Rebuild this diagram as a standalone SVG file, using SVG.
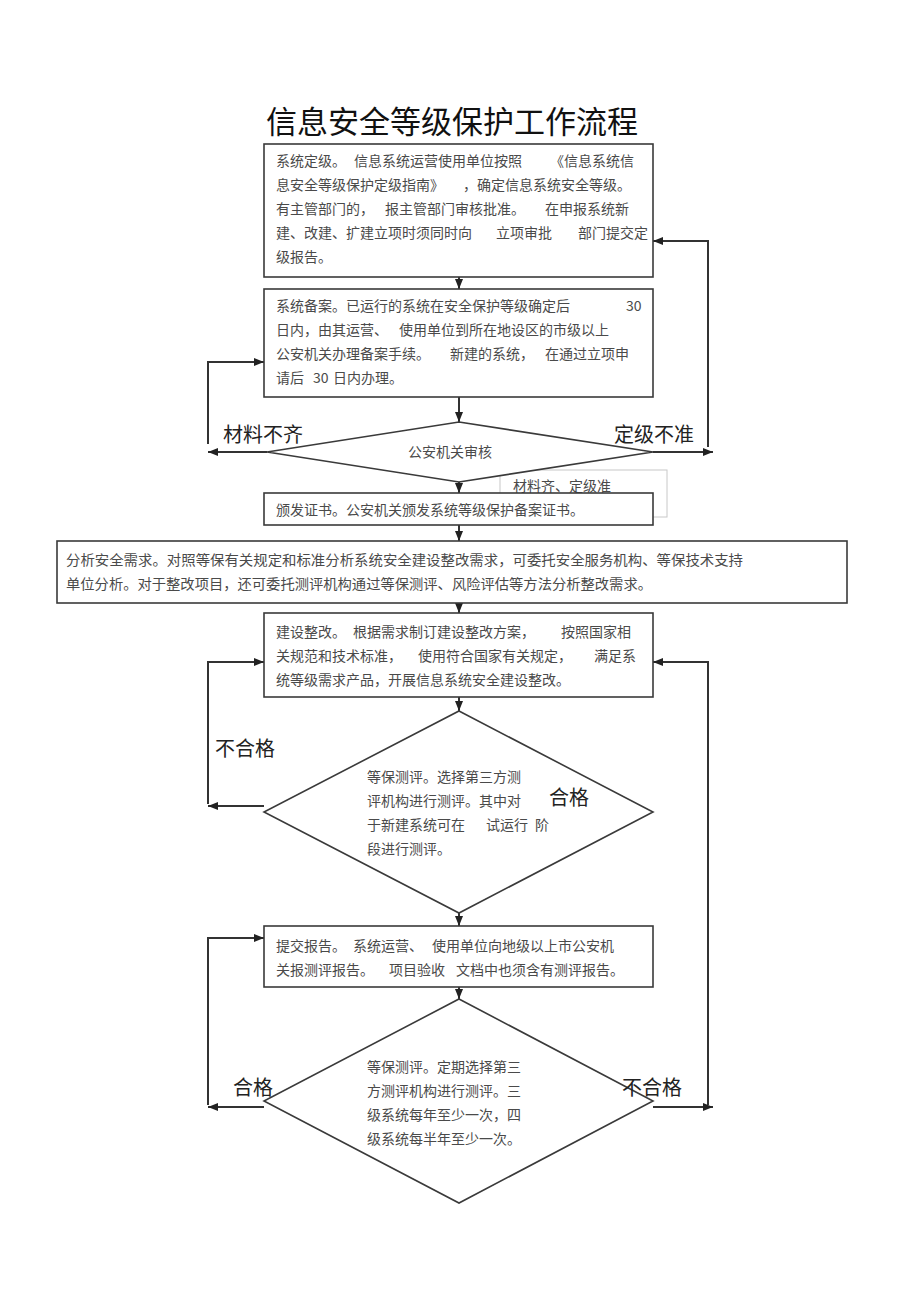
<svg xmlns="http://www.w3.org/2000/svg" width="920" height="1303" viewBox="0 0 920 1303">
<defs>
<style>
.box{fill:#fff;stroke:#3a3a3a;stroke-width:1.6}
.dia{fill:#fff;stroke:#3a3a3a;stroke-width:1.6}
.t{font-family:"Noto Sans CJK SC","Liberation Sans",sans-serif;font-size:14px;fill:#4a4a4a}
.lbl{font-family:"Noto Sans CJK SC","Liberation Sans",sans-serif;font-size:20px;fill:#222}
.title{font-family:"Noto Sans CJK SC","Liberation Sans",sans-serif;font-size:31px;fill:#111}
.c{fill:none;stroke:#333;stroke-width:2}
</style>
<marker id="ah" markerUnits="userSpaceOnUse" markerWidth="10" markerHeight="8" refX="10" refY="4" orient="auto">
<path d="M0,0 L10,4 L0,8 z" fill="#222"/>
</marker>
</defs>

<text class="title" x="452" y="133" text-anchor="middle">信息安全等级保护工作流程</text>

<g id="label-ok">
<rect x="500" y="470" width="167" height="47" fill="none" stroke="#c8c8c8" stroke-width="1"/>
<text class="t" x="513" y="491">材料齐、定级准</text>
</g>

<g id="connectors">
<path class="c" d="M459,277 L459,289" marker-end="url(#ah)"/>
<path class="c" d="M459,397 L459,422" marker-end="url(#ah)"/>
<path class="c" d="M459,482 L459,493" marker-end="url(#ah)"/>
<path class="c" d="M459,525 L459,541" marker-end="url(#ah)"/>
<path class="c" d="M459,603 L459,613" marker-end="url(#ah)"/>
<path class="c" d="M459,697 L459,711" marker-end="url(#ah)"/>
<path class="c" d="M459,913 L459,926" marker-end="url(#ah)"/>
<path class="c" d="M459,987 L459,999" marker-end="url(#ah)"/>
<path class="c" d="M267,452 L208,452" marker-end="url(#ah)"/>
<path class="c" d="M208,444 L208,362 L264,362" marker-end="url(#ah)"/>
<path class="c" d="M653,452 L713,452" marker-end="url(#ah)"/>
<path class="c" d="M708,447 L708,241 L653,241" marker-end="url(#ah)"/>
<path class="c" d="M264,806 L208,806" marker-end="url(#ah)"/>
<path class="c" d="M208,804 L208,662 L264,662" marker-end="url(#ah)"/>
<path class="c" d="M708,1105 L708,662 L653,662" marker-end="url(#ah)"/>
<path class="c" d="M653,1107 L713,1107" marker-end="url(#ah)"/>
<path class="c" d="M264,1107 L208,1107" marker-end="url(#ah)"/>
<path class="c" d="M208,1105 L208,938 L264,938" marker-end="url(#ah)"/>
</g>

<g id="box1">
<rect class="box" x="264" y="144" width="389" height="133"/>
<text class="t" x="276" y="166">系统定级。</text>
<text class="t" x="354" y="166">信息系统运营使用单位按照</text>
<text class="t" x="550" y="166">《信息系统信</text>
<text class="t" x="276" y="190">息安全等级保护定级指南》</text>
<text class="t" x="463" y="190">，确定信息系统安全等级。</text>
<text class="t" x="276" y="214">有主管部门的，</text>
<text class="t" x="385" y="214">报主管部门审核批准。</text>
<text class="t" x="545" y="214">在申报系统新</text>
<text class="t" x="276" y="238">建、改建、扩建立项时须同时向</text>
<text class="t" x="496" y="238">立项审批</text>
<text class="t" x="578" y="238">部门提交定</text>
<text class="t" x="276" y="262">级报告。</text>
</g>

<g id="box2">
<rect class="box" x="264" y="289" width="389" height="108"/>
<text class="t" x="276" y="311">系统备案。已运行的系统在安全保护等级确定后</text>
<text class="t" x="626" y="311">30</text>
<text class="t" x="276" y="335">日内，由其运营、</text>
<text class="t" x="399" y="335">使用单位到所在地设区的市级以上</text>
<text class="t" x="276" y="359">公安机关办理备案手续。</text>
<text class="t" x="450" y="359">新建的系统，</text>
<text class="t" x="545" y="359">在通过立项申</text>
<text class="t" x="276" y="383">请后</text>
<text class="t" x="313" y="383">30</text>
<text class="t" x="333" y="383">日内办理。</text>
</g>

<g id="diamond1">
<polygon class="dia" points="459,422 653,452 459,482 267,452"/>
<text class="t" x="450" y="457" text-anchor="middle">公安机关审核</text>
</g>
<text class="lbl" x="223" y="442">材料不齐</text>
<text class="lbl" x="614" y="442">定级不准</text>

<g id="box3">
<rect class="box" x="264" y="493" width="389" height="32"/>
<text class="t" x="276" y="515">颁发证书。公安机关颁发系统等级保护备案证书。</text>
</g>

<g id="box4">
<rect class="box" x="57" y="541" width="790" height="62"/>
<text class="t" x="66" y="565" textLength="677" lengthAdjust="spacingAndGlyphs">分析安全需求。对照等保有关规定和标准分析系统安全建设整改需求，可委托安全服务机构、等保技术支持</text>
<text class="t" x="66" y="589" textLength="586" lengthAdjust="spacingAndGlyphs">单位分析。对于整改项目，还可委托测评机构通过等保测评、风险评估等方法分析整改需求。</text>
</g>

<g id="box5">
<rect class="box" x="264" y="613" width="389" height="84"/>
<text class="t" x="276" y="637">建设整改。</text>
<text class="t" x="353" y="637">根据需求制订建设整改方案，</text>
<text class="t" x="561" y="637">按照国家相</text>
<text class="t" x="276" y="661">关规范和技术标准，</text>
<text class="t" x="418" y="661">使用符合国家有关规定，</text>
<text class="t" x="594" y="661">满足系</text>
<text class="t" x="276" y="685">统等级需求产品，开展信息系统安全建设整改。</text>
</g>

<g id="diamond2">
<polygon class="dia" points="459,711 653,812 459,913 264,812"/>
<text class="t" x="367" y="782">等保测评。选择第三方测</text>
<text class="t" x="367" y="806">评机构进行测评。其中对</text>
<text class="t" x="367" y="830">于新建系统可在</text>
<text class="t" x="486" y="830">试运行</text>
<text class="t" x="535" y="830">阶</text>
<text class="t" x="367" y="854">段进行测评。</text>
</g>
<text class="lbl" x="215" y="756">不合格</text>
<text class="lbl" x="549" y="805">合格</text>

<g id="box6">
<rect class="box" x="264" y="926" width="389" height="61"/>
<text class="t" x="276" y="951">提交报告。</text>
<text class="t" x="353" y="951">系统运营、</text>
<text class="t" x="432" y="951">使用单位向地级以上市公安机</text>
<text class="t" x="276" y="975">关报测评报告。</text>
<text class="t" x="389" y="975">项目验收</text>
<text class="t" x="456" y="975">文档中也须含有测评报告。</text>
</g>

<g id="diamond3">
<polygon class="dia" points="459,999 653,1101 459,1203 264,1101"/>
<text class="t" x="367" y="1072">等保测评。定期选择第三</text>
<text class="t" x="367" y="1096">方测评机构进行测评。三</text>
<text class="t" x="367" y="1120">级系统每年至少一次，四</text>
<text class="t" x="367" y="1144">级系统每半年至少一次。</text>
</g>
<text class="lbl" x="233" y="1095">合格</text>
<text class="lbl" x="622" y="1095">不合格</text>
</svg>
